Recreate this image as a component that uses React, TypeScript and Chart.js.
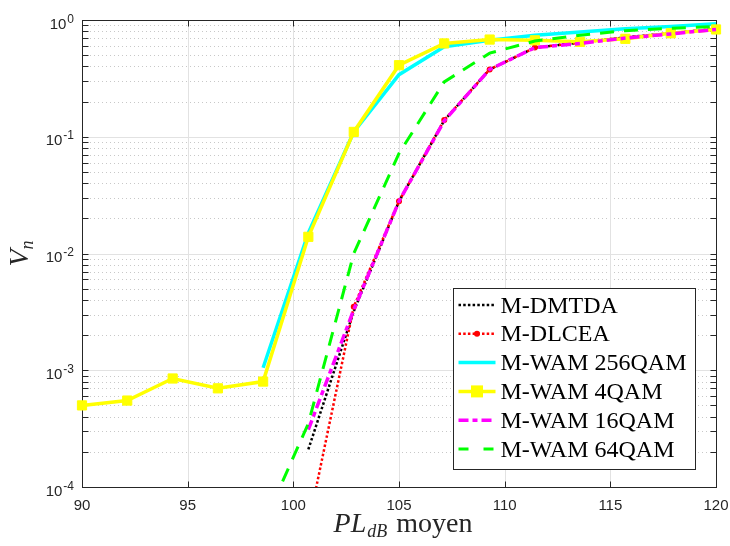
import React, { useEffect, useRef } from "react";
import { Chart, registerables } from "chart.js";

Chart.register(...registerables);

// ---- data ----
const xValues = [90, 92.14, 94.29, 96.43, 98.57, 100.71, 102.86, 105, 107.14, 109.29, 111.43, 113.57, 115.71, 117.86, 120];
const dmtda = [null, null, null, null, null, 2.1e-4, 3.2e-3, 0.028, 0.138, 0.377, 0.58, 0.64, 0.71, 0.77, 0.84];
const dlcea = [null, null, null, null, null, 4.7e-5, 3.5e-3, 0.028, 0.139, 0.377, 0.58, 0.64, 0.71, 0.77, 0.84];
const wam256 = [null, null, null, null, 1.05e-3, 0.015, 0.11, 0.34, 0.59, 0.67, 0.74, 0.79, 0.84, 0.88, 0.93];
const wam4 = [5.0e-4, 5.5e-4, 8.5e-4, 7.0e-4, 8.0e-4, 0.0139, 0.11, 0.41, 0.63, 0.68, 0.67, 0.65, 0.69, 0.77, 0.83];
const wam16 = [null, null, null, null, null, 3.1e-4, 3.3e-3, 0.028, 0.137, 0.377, 0.58, 0.63, 0.7, 0.76, 0.83];
const wam64 = [null, null, null, null, 4.7e-5, 3.5e-4, 0.01, 0.072, 0.295, 0.52, 0.66, 0.74, 0.81, 0.85, 0.88];

const xTicks = [90, 95, 100, 105, 110, 115, 120];
const yExponents = [-4, -3, -2, -1, 0];
const legendLabels = ["M-DMTDA", "M-DLCEA", "M-WAM 256QAM", "M-WAM 4QAM", "M-WAM 16QAM", "M-WAM 64QAM"];

const AXIS = "#262626";
const SANS = "'Liberation Sans', Arial, sans-serif";
const SERIF = "'Liberation Serif', 'Times New Roman', serif";

type Style = {
  color: string;
  width: number;
  dash: number[];
  legendDash: number[];
  marker?: "dot" | "rect";
};

const styles: Style[] = [
  { color: "#000000", width: 2.5, dash: [2.5, 2.2], legendDash: [2.5, 2.2] },
  { color: "#ff0000", width: 2.5, dash: [2.5, 2.2], legendDash: [2.5, 2.2], marker: "dot" },
  { color: "#00ffff", width: 3.5, dash: [], legendDash: [] },
  { color: "#ffff00", width: 3.5, dash: [], legendDash: [], marker: "rect" },
  { color: "#ff00ff", width: 3.5, dash: [10, 4, 5, 4], legendDash: [10, 4, 5, 4] },
  { color: "#00ff00", width: 3, dash: [14, 10], legendDash: [10, 15] },
];

const seriesValues = [dmtda, dlcea, wam256, wam4, wam16, wam64];

const toPoints = (vals: (number | null)[]) =>
  xValues.map((x, i) => ({ x, y: vals[i] })).filter((p) => p.y !== null) as { x: number; y: number }[];

const framePlugin = {
  id: "matlabFrame",
  beforeDatasetsDraw(chart: any) {
    const { ctx, chartArea: a, scales } = chart;
    const xs = scales.x;
    const ys = scales.y;
    ctx.save();
    // minor y grid (dotted)
    ctx.lineWidth = 1;
    ctx.strokeStyle = "#c8c8c8";
    ctx.setLineDash([1, 3]);
    for (let e = -4; e < 0; e++) {
      for (let m = 2; m <= 9; m++) {
        const y = Math.round(ys.getPixelForValue(m * Math.pow(10, e))) + 0.5;
        ctx.beginPath();
        ctx.moveTo(a.left, y);
        ctx.lineTo(a.right, y);
        ctx.stroke();
      }
    }
    // major grid
    ctx.setLineDash([]);
    ctx.strokeStyle = "#e2e2e2";
    for (const e of yExponents) {
      const y = Math.round(ys.getPixelForValue(Math.pow(10, e))) + 0.5;
      ctx.beginPath();
      ctx.moveTo(a.left, y);
      ctx.lineTo(a.right, y);
      ctx.stroke();
    }
    for (const v of xTicks) {
      const x = Math.round(xs.getPixelForValue(v)) + 0.5;
      ctx.beginPath();
      ctx.moveTo(x, a.top);
      ctx.lineTo(x, a.bottom);
      ctx.stroke();
    }
    // box
    ctx.strokeStyle = AXIS;
    ctx.lineWidth = 1;
    const L = Math.round(a.left) + 0.5;
    const R = Math.round(a.right) + 0.5;
    const T = Math.round(a.top) + 0.5;
    const B = Math.round(a.bottom) + 0.5;
    ctx.strokeRect(L, T, R - L, B - T);
    // inward tick marks
    const tl = 6;
    ctx.beginPath();
    for (const v of xTicks) {
      const x = Math.round(xs.getPixelForValue(v)) + 0.5;
      ctx.moveTo(x, B);
      ctx.lineTo(x, B - tl);
      ctx.moveTo(x, T);
      ctx.lineTo(x, T + tl);
    }
    for (let e = -4; e <= 0; e++) {
      const ms = e === 0 ? [1] : [1, 2, 3, 4, 5, 6, 7, 8, 9];
      for (const m of ms) {
        const y = Math.round(ys.getPixelForValue(m * Math.pow(10, e))) + 0.5;
        ctx.moveTo(L, y);
        ctx.lineTo(L + tl, y);
        ctx.moveTo(R, y);
        ctx.lineTo(R - tl, y);
      }
    }
    ctx.stroke();
    ctx.restore();
  },
  afterDraw(chart: any) {
    const { ctx, chartArea: a, scales } = chart;
    const ys = scales.y;
    ctx.save();
    // y tick labels 10^e
    ctx.fillStyle = AXIS;
    ctx.textAlign = "left";
    ctx.textBaseline = "alphabetic";
    for (const e of yExponents) {
      const py = ys.getPixelForValue(Math.pow(10, e));
      const ex = String(e);
      ctx.font = `12px ${SANS}`;
      const wE = ctx.measureText(ex).width;
      ctx.font = `15px ${SANS}`;
      const wB = ctx.measureText("10").width;
      const right = a.left - 8;
      const base = py + 8.5;
      ctx.fillText("10", right - wE - 1 - wB, base);
      ctx.font = `12px ${SANS}`;
      ctx.fillText(ex, right - wE, base - 6);
    }

    // x title: PL_dB moyen
    const tSize = 28;
    const sSize = 18;
    ctx.font = `italic ${tSize}px ${SERIF}`;
    const w1 = ctx.measureText("PL").width + 1;
    ctx.font = `italic ${sSize}px ${SERIF}`;
    const w2 = ctx.measureText("dB").width + 2;
    ctx.font = `${tSize}px ${SERIF}`;
    const w3 = ctx.measureText(" moyen").width;
    const total = w1 + w2 + w3;
    const x0 = (a.left + a.right) / 2 + 4 - total / 2;
    const by = a.bottom + 45;
    ctx.font = `italic ${tSize}px ${SERIF}`;
    ctx.fillText("PL", x0, by);
    ctx.font = `italic ${sSize}px ${SERIF}`;
    ctx.fillText("dB", x0 + w1, by + 5);
    ctx.font = `${tSize}px ${SERIF}`;
    ctx.fillText(" moyen", x0 + w1 + w2, by);

    // y title: V_n (rotated)
    ctx.save();
    ctx.translate(28, (a.top + a.bottom) / 2);
    ctx.rotate(-Math.PI / 2);
    ctx.font = `italic ${tSize}px ${SERIF}`;
    const wv = ctx.measureText("V").width;
    ctx.font = `italic ${sSize}px ${SERIF}`;
    const wn = ctx.measureText("n").width;
    const sx = -(wv + wn) / 2;
    ctx.font = `italic ${tSize}px ${SERIF}`;
    ctx.fillText("V", sx, 0);
    ctx.font = `italic ${sSize}px ${SERIF}`;
    ctx.fillText("n", sx + wv, 5);
    ctx.restore();

    // legend
    const bw = 242;
    const bh = 181;
    const bx = Math.round(a.right - 21 - bw) + 0.5;
    const byy = Math.round(a.bottom - 18 - bh) + 0.5;
    ctx.fillStyle = "#ffffff";
    ctx.fillRect(bx, byy, bw, bh);
    ctx.strokeStyle = AXIS;
    ctx.lineWidth = 1;
    ctx.setLineDash([]);
    ctx.strokeRect(bx, byy, bw, bh);
    const step = 28.8;
    legendLabels.forEach((label, i) => {
      const st = styles[i];
      const cy = byy + 16.5 + i * step;
      const lx0 = bx + 5;
      const lx1 = bx + 42;
      ctx.save();
      ctx.strokeStyle = st.color;
      ctx.lineWidth = st.width;
      ctx.setLineDash(st.legendDash);
      ctx.beginPath();
      ctx.moveTo(lx0, cy);
      ctx.lineTo(lx1, cy);
      ctx.stroke();
      ctx.setLineDash([]);
      const mx = (lx0 + lx1) / 2;
      if (st.marker === "dot") {
        ctx.fillStyle = st.color;
        ctx.beginPath();
        ctx.arc(mx, cy, 3, 0, Math.PI * 2);
        ctx.fill();
      } else if (st.marker === "rect") {
        ctx.fillStyle = st.color;
        ctx.fillRect(mx - 6, cy - 6, 12, 12);
      }
      ctx.restore();
      ctx.fillStyle = "#000000";
      ctx.font = `24px ${SERIF}`;
      ctx.textAlign = "left";
      ctx.textBaseline = "alphabetic";
      ctx.fillText(label, bx + 47, cy + 7.5);
    });
    ctx.restore();
  },
};

export default function App() {
  const ref = useRef<HTMLCanvasElement>(null);
  useEffect(() => {
    if (!ref.current) return;
    const datasets = seriesValues.map((vals, i) => {
      const st = styles[i];
      return {
        label: legendLabels[i],
        data: toPoints(vals),
        borderColor: st.color,
        backgroundColor: st.color,
        borderWidth: st.width,
        borderDash: st.dash,
        borderCapStyle: "butt",
        fill: false,
        tension: 0,
        pointRadius: st.marker === "dot" ? 3 : st.marker === "rect" ? 6.5 : 0,
        pointStyle: st.marker === "rect" ? "rect" : "circle",
        pointBackgroundColor: st.color,
        pointBorderColor: st.color,
        pointBorderWidth: st.marker === "rect" ? 1 : 0,
        order: 6 - i,
        clip: { left: 10, right: 10, top: 10, bottom: 0 },
      };
    });
    const chart = new Chart(ref.current, {
      type: "line",
      data: { datasets },
      options: {
        animation: false,
        responsive: false,
        events: [],
        layout: { padding: { top: 20, right: 14, left: 0, bottom: 0 } },
        plugins: { legend: { display: false }, tooltip: { enabled: false } },
        scales: {
          x: {
            type: "linear",
            min: 90,
            max: 120,
            afterBuildTicks: (s: any) => {
              s.ticks = xTicks.map((v) => ({ value: v }));
            },
            ticks: {
              font: { family: SANS, size: 15 },
              color: AXIS,
              padding: 10,
              autoSkip: false,
              maxRotation: 0,
            },
            grid: { display: false, drawTicks: false },
            border: { display: false },
            afterFit: (s: any) => {
              s.height = 59;
              s.paddingLeft = 0;
              s.paddingRight = 0;
            },
          },
          y: {
            type: "logarithmic",
            min: 1e-4,
            max: 1,
            ticks: { display: false },
            grid: { display: false, drawTicks: false },
            border: { display: false },
            afterFit: (s: any) => {
              s.width = 82;
              s.paddingTop = 0;
              s.paddingBottom = 0;
            },
          },
        },
      } as any,
      plugins: [framePlugin],
    } as any);
    return () => chart.destroy();
  }, []);
  return (
    <div style={{ position: "fixed", left: 0, top: 0, width: 730, height: 546 }}>
      <canvas ref={ref} width={730} height={546} style={{ display: "block" }} />
    </div>
  );
}
